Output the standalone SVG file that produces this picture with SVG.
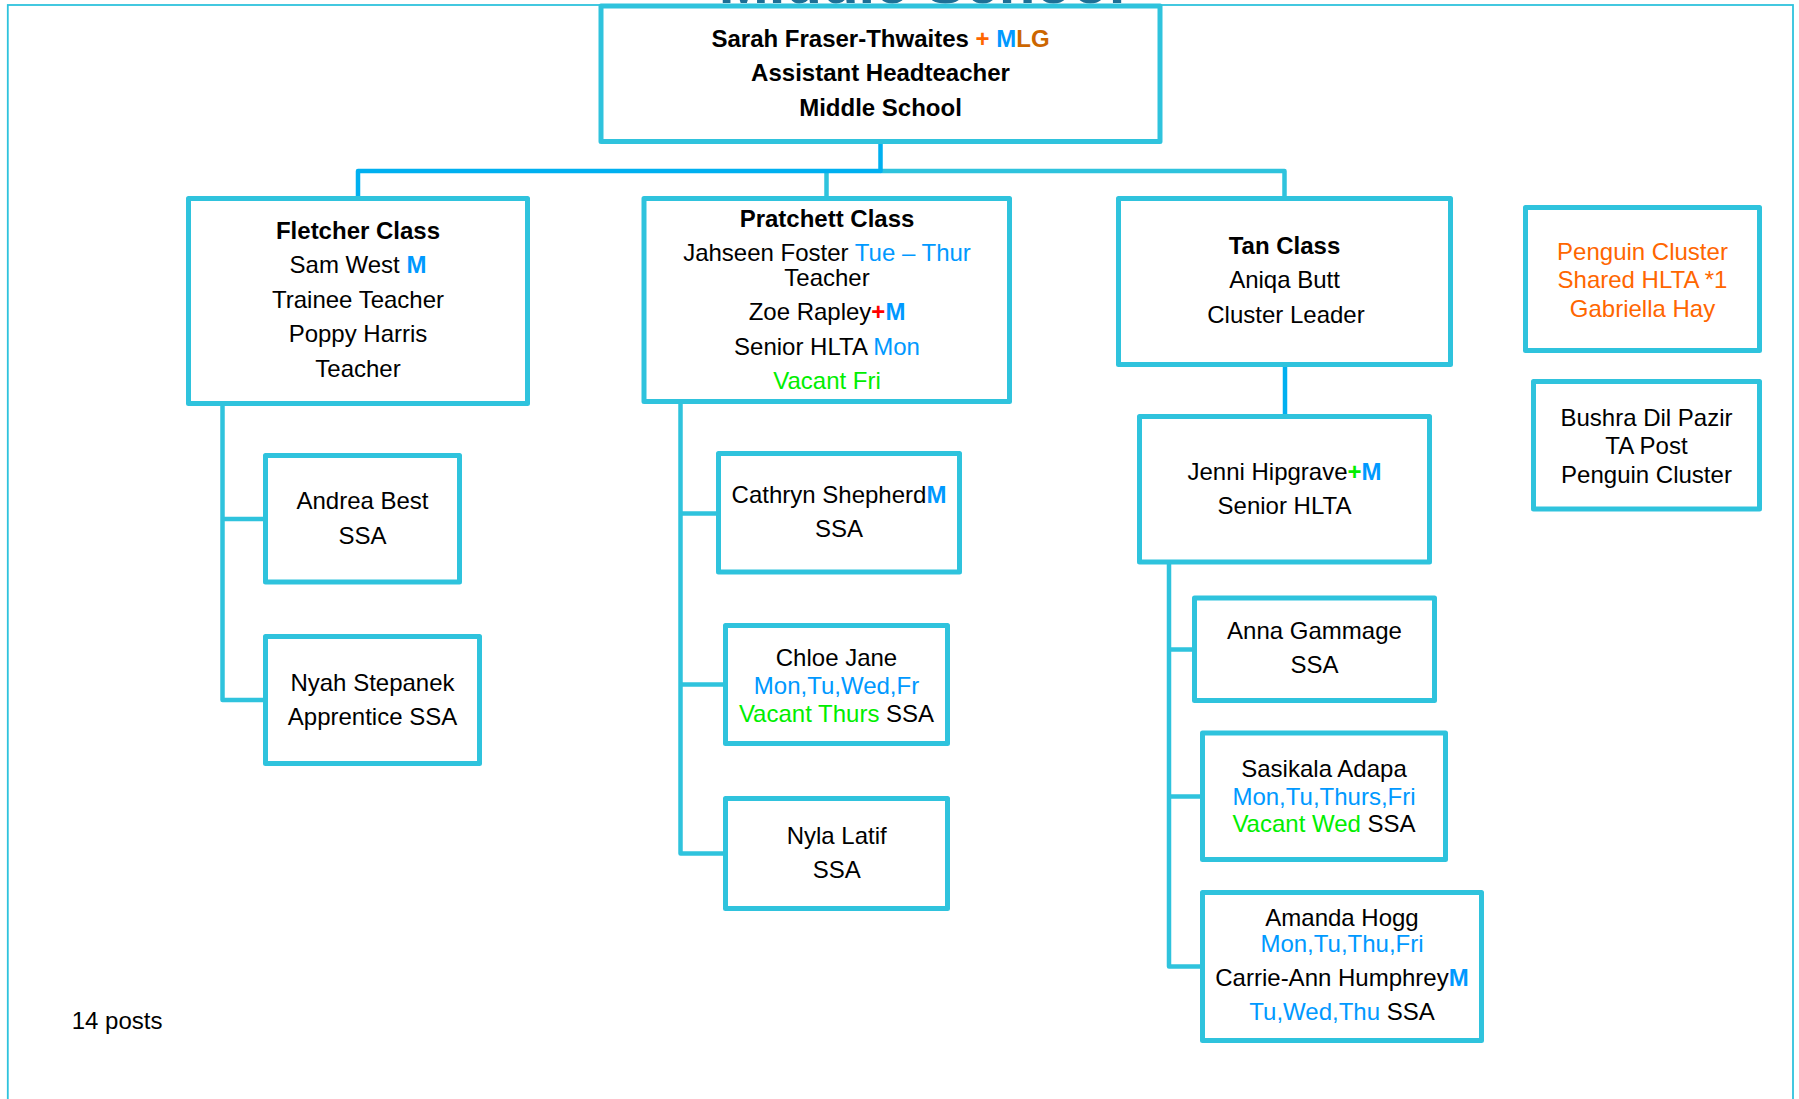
<svg xmlns="http://www.w3.org/2000/svg" width="1799" height="1099" viewBox="0 0 1799 1099">
<style>
  .box { fill: #ffffff; stroke: #2FC3DD; stroke-width: 5; stroke-linejoin: round; }
  .con { fill: none; stroke: #2FC3DD; stroke-width: 4.5; stroke-linejoin: round; stroke-linecap: butt; }
  .conb { fill: none; stroke: #00B0F0; stroke-width: 4.5; stroke-linejoin: round; }
  text { font-family: "Liberation Sans", Arial, sans-serif; font-size: 24px; fill: #000000; text-anchor: middle; }
  .b { font-weight: bold; }
  .blue { fill: #0099FF; }
  .green { fill: #00EE00; }
  .orange { fill: #FF6600; }
  .brown { fill: #CC6600; }
  .red { fill: #FF0000; }
</style>
<rect width="1799" height="1099" fill="#ffffff"/>
<rect x="7.8" y="5" width="1785.2" height="1200" fill="none" stroke="#2FC3DD" stroke-width="1.8"/>
<text x="922" y="3" class="b" style="font-size:60px;fill:#1E6F95">Middle School</text>

<g id="connectors">
  <path class="con" d="M880.5 171 H1284.5 V199"/>
  <path class="con" d="M826.5 171 V199"/>
  <path class="conb" d="M880.5 141 V171 H358 V199"/>
  <path class="conb" d="M1285 364 V417"/>
  <path class="con" d="M222.5 403 V700 H266 M222.5 519 H266"/>
  <path class="con" d="M680.5 401 V853.5 H726 M680.5 513.5 H719 M680.5 684.5 H726"/>
  <path class="con" d="M1169 562 V966.5 H1203 M1169 649.5 H1195 M1169 796.5 H1203"/>
</g>

<g id="head">
  <rect class="box" x="601" y="6" width="559" height="135.5"/>
  <text x="880.5" y="47" class="b">Sarah Fraser-Thwaites <tspan class="orange">+ </tspan><tspan class="blue">M</tspan><tspan class="brown">LG</tspan></text>
  <text x="880.5" y="81" class="b">Assistant Headteacher</text>
  <text x="880.5" y="116" class="b">Middle School</text>
</g>

<g id="fletcher">
  <rect class="box" x="188.5" y="198.5" width="339" height="205"/>
  <text x="358" y="239" class="b">Fletcher Class</text>
  <text x="358" y="273">Sam West <tspan class="b blue">M</tspan></text>
  <text x="358" y="307.5">Trainee Teacher</text>
  <text x="358" y="342">Poppy Harris</text>
  <text x="358" y="377">Teacher</text>
</g>

<g id="pratchett">
  <rect class="box" x="644" y="198.5" width="365.5" height="203"/>
  <text x="827" y="226.7" class="b">Pratchett Class</text>
  <text x="827" y="261">Jahseen Foster <tspan class="blue">Tue – Thur</tspan></text>
  <text x="827" y="286">Teacher</text>
  <text x="827" y="320">Zoe Rapley<tspan class="b red">+</tspan><tspan class="b blue">M</tspan></text>
  <text x="827" y="355">Senior HLTA <tspan class="blue">Mon</tspan></text>
  <text x="827" y="389" class="green">Vacant Fri</text>
</g>

<g id="tan">
  <rect class="box" x="1118.5" y="198.5" width="332" height="166"/>
  <text x="1284.5" y="254" class="b">Tan Class</text>
  <text x="1284.5" y="288">Aniqa Butt</text>
  <text x="1286" y="323">Cluster Leader</text>
</g>

<g id="penguin">
  <rect class="box" x="1525.5" y="207.5" width="234" height="143"/>
  <text x="1642.5" y="259.5" class="orange">Penguin Cluster</text>
  <text x="1642.5" y="288" class="orange">Shared HLTA *1</text>
  <text x="1642.5" y="316.7" class="orange">Gabriella Hay</text>
</g>

<g id="bushra">
  <rect class="box" x="1533.5" y="381.5" width="226" height="127.5"/>
  <text x="1646.5" y="426">Bushra Dil Pazir</text>
  <text x="1646.5" y="454">TA Post</text>
  <text x="1646.5" y="482.7">Penguin Cluster</text>
</g>

<g id="andrea">
  <rect class="box" x="265.5" y="455.5" width="194" height="126.5"/>
  <text x="362.5" y="508.7">Andrea Best</text>
  <text x="362.5" y="544">SSA</text>
</g>

<g id="nyah">
  <rect class="box" x="265.5" y="636.5" width="214" height="127"/>
  <text x="372.5" y="691">Nyah Stepanek</text>
  <text x="372.5" y="725">Apprentice SSA</text>
</g>

<g id="cathryn">
  <rect class="box" x="718.5" y="453.5" width="241" height="118.5"/>
  <text x="839" y="503">Cathryn Shepherd<tspan class="b blue">M</tspan></text>
  <text x="839" y="536.7">SSA</text>
</g>

<g id="chloe">
  <rect class="box" x="725.5" y="625.5" width="222" height="118"/>
  <text x="836.5" y="666">Chloe Jane</text>
  <text x="836.5" y="694" class="blue">Mon,Tu,Wed,Fr</text>
  <text x="836.5" y="721.7"><tspan class="green">Vacant Thurs</tspan> SSA</text>
</g>

<g id="nyla">
  <rect class="box" x="725.5" y="798.5" width="222" height="110"/>
  <text x="836.7" y="844">Nyla Latif</text>
  <text x="836.7" y="877.7">SSA</text>
</g>

<g id="jenni">
  <rect class="box" x="1139.5" y="416.5" width="290" height="145.5"/>
  <text x="1284.5" y="480">Jenni Hipgrave<tspan class="b green">+</tspan><tspan class="b blue">M</tspan></text>
  <text x="1284.5" y="514">Senior HLTA</text>
</g>

<g id="anna">
  <rect class="box" x="1194.5" y="598" width="240" height="102.5"/>
  <text x="1314.5" y="639">Anna Gammage</text>
  <text x="1314.5" y="673">SSA</text>
</g>

<g id="sasikala">
  <rect class="box" x="1202.5" y="733" width="243" height="126.5"/>
  <text x="1324" y="776.7">Sasikala Adapa</text>
  <text x="1324" y="805" class="blue">Mon,Tu,Thurs,Fri</text>
  <text x="1324" y="832.3"><tspan class="green">Vacant Wed</tspan> SSA</text>
</g>

<g id="amanda">
  <rect class="box" x="1202.5" y="892.5" width="279" height="148"/>
  <text x="1342" y="926">Amanda Hogg</text>
  <text x="1342" y="951.7" class="blue">Mon,Tu,Thu,Fri</text>
  <text x="1342" y="985.7">Carrie-Ann Humphrey<tspan class="b blue">M</tspan></text>
  <text x="1342" y="1020"><tspan class="blue">Tu,Wed,Thu</tspan> SSA</text>
</g>

<g id="footer">
  <text x="71.7" y="1029" style="text-anchor:start">14 posts</text>
</g>
</svg>
